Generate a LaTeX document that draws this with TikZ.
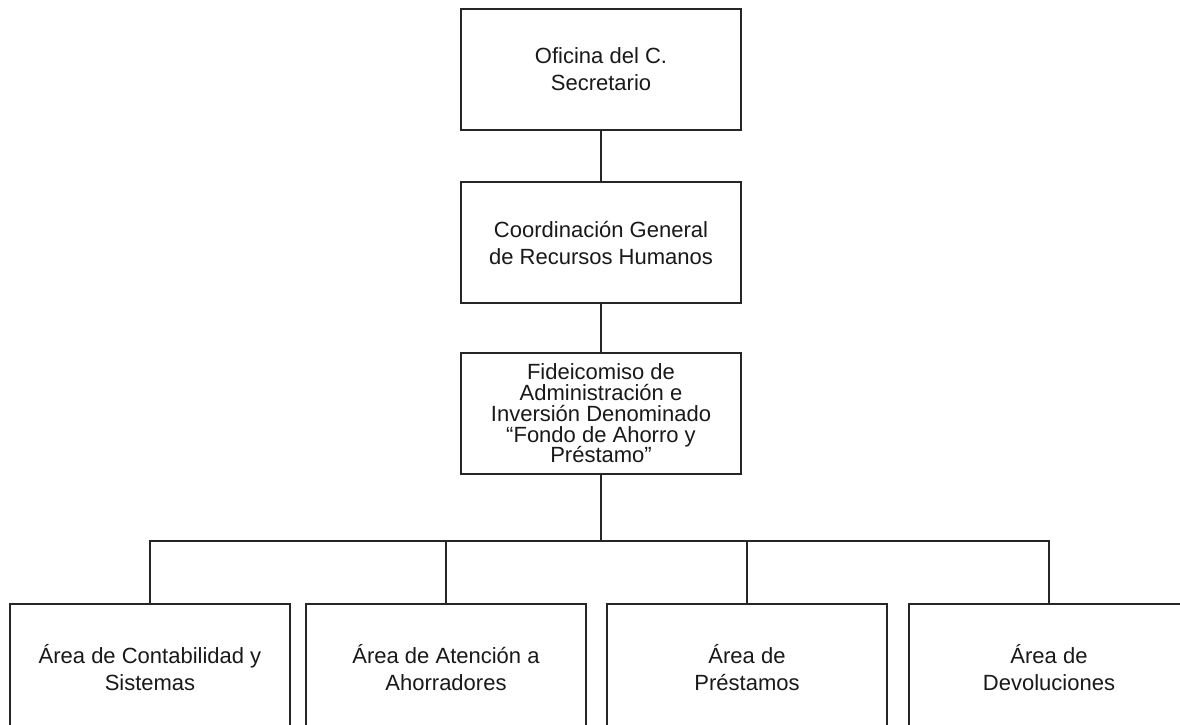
\documentclass[tikz,border=0pt]{standalone}
\usepackage{fontspec}
\setmainfont{Liberation Sans}
\begin{document}
\begin{tikzpicture}[x=1pt,y=-1pt,
  orgbox/.style={draw=black!85, line width=2pt, fill=white, rectangle, minimum width=280pt, align=center, text=black!90, font=\fontsize{22}{27}\selectfont, inner sep=0pt},
  tightbox/.style={orgbox, font=\fontsize{22}{20.8}\selectfont},
  link/.style={draw=black!85, line width=2pt}]
\useasboundingbox (0,0) rectangle (1180,724);
\clip (0,0) rectangle (1180,724);
\node[orgbox, minimum height=121pt] (ofi) at (601,69.5) {Oficina del C.\\Secretario};
\node[orgbox, minimum height=121pt] (coord) at (601,242.5) {Coordinación General\\de Recursos Humanos};
\node[tightbox, minimum height=121pt] (fide) at (601,413.5) {Fideicomiso de\\Administración e\\Inversión Denominado\\“Fondo de Ahorro y\\Préstamo”};
\node[orgbox, minimum height=128pt] (b1) at (150,668) {Área de Contabilidad y\\Sistemas};
\node[orgbox, minimum height=128pt] (b2) at (446,668) {Área de Atención a\\Ahorradores};
\node[orgbox, minimum height=128pt] (b3) at (747,668) {Área de\\Préstamos};
\node[orgbox, minimum height=128pt] (b4) at (1049,668) {Área de\\Devoluciones};
\coordinate (bus) at (601,541);
\draw[link] (ofi.south) -- (coord.north);
\draw[link] (coord.south) -- (fide.north);
\draw[link] (fide.south) -- (bus);
\draw[link] (b1.north) |- (bus);
\draw[link] (b2.north) |- (bus);
\draw[link] (b3.north) |- (bus);
\draw[link] (b4.north) |- (bus);
\end{tikzpicture}
\end{document}
